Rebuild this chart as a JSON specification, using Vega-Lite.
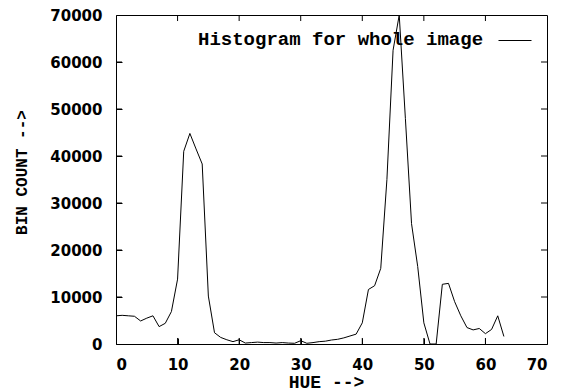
{
  "$schema": "https://vega.github.io/schema/vega-lite/v6.json",
  "autosize": "none",
  "width": 431,
  "height": 329,
  "padding": {"left": 116, "top": 15, "right": 20, "bottom": 47},
  "background": "white",
  "config": {
    "view": {"stroke": "black", "strokeWidth": 1},
    "axis": {
      "labelColor": "black",
      "labelFont": "DejaVu Sans",
      "labelFontWeight": "bold",
      "labelFontSize": 15,
      "titleColor": "black",
      "titleFont": "Liberation Mono",
      "titleFontWeight": "bold"
    }
  },
  "datasets": {
    "hist": [
      {"hue": 0, "count": 6000, "series": "Histogram for whole image"},
      {"hue": 1, "count": 6100, "series": "Histogram for whole image"},
      {"hue": 2, "count": 6000, "series": "Histogram for whole image"},
      {"hue": 3, "count": 5900, "series": "Histogram for whole image"},
      {"hue": 4, "count": 4900, "series": "Histogram for whole image"},
      {"hue": 5, "count": 5500, "series": "Histogram for whole image"},
      {"hue": 6, "count": 6000, "series": "Histogram for whole image"},
      {"hue": 7, "count": 3700, "series": "Histogram for whole image"},
      {"hue": 8, "count": 4400, "series": "Histogram for whole image"},
      {"hue": 9, "count": 6900, "series": "Histogram for whole image"},
      {"hue": 10, "count": 13800, "series": "Histogram for whole image"},
      {"hue": 11, "count": 41000, "series": "Histogram for whole image"},
      {"hue": 12, "count": 44800, "series": "Histogram for whole image"},
      {"hue": 13, "count": 41500, "series": "Histogram for whole image"},
      {"hue": 14, "count": 38300, "series": "Histogram for whole image"},
      {"hue": 15, "count": 10200, "series": "Histogram for whole image"},
      {"hue": 16, "count": 2400, "series": "Histogram for whole image"},
      {"hue": 17, "count": 1400, "series": "Histogram for whole image"},
      {"hue": 18, "count": 900, "series": "Histogram for whole image"},
      {"hue": 19, "count": 500, "series": "Histogram for whole image"},
      {"hue": 20, "count": 900, "series": "Histogram for whole image"},
      {"hue": 21, "count": 200, "series": "Histogram for whole image"},
      {"hue": 22, "count": 300, "series": "Histogram for whole image"},
      {"hue": 23, "count": 400, "series": "Histogram for whole image"},
      {"hue": 24, "count": 300, "series": "Histogram for whole image"},
      {"hue": 25, "count": 300, "series": "Histogram for whole image"},
      {"hue": 26, "count": 200, "series": "Histogram for whole image"},
      {"hue": 27, "count": 300, "series": "Histogram for whole image"},
      {"hue": 28, "count": 200, "series": "Histogram for whole image"},
      {"hue": 29, "count": 150, "series": "Histogram for whole image"},
      {"hue": 30, "count": 700, "series": "Histogram for whole image"},
      {"hue": 31, "count": 150, "series": "Histogram for whole image"},
      {"hue": 32, "count": 300, "series": "Histogram for whole image"},
      {"hue": 33, "count": 500, "series": "Histogram for whole image"},
      {"hue": 34, "count": 600, "series": "Histogram for whole image"},
      {"hue": 35, "count": 850, "series": "Histogram for whole image"},
      {"hue": 36, "count": 1000, "series": "Histogram for whole image"},
      {"hue": 37, "count": 1300, "series": "Histogram for whole image"},
      {"hue": 38, "count": 1700, "series": "Histogram for whole image"},
      {"hue": 39, "count": 2100, "series": "Histogram for whole image"},
      {"hue": 40, "count": 4500, "series": "Histogram for whole image"},
      {"hue": 41, "count": 11600, "series": "Histogram for whole image"},
      {"hue": 42, "count": 12400, "series": "Histogram for whole image"},
      {"hue": 43, "count": 16100, "series": "Histogram for whole image"},
      {"hue": 44, "count": 35000, "series": "Histogram for whole image"},
      {"hue": 45, "count": 62500, "series": "Histogram for whole image"},
      {"hue": 46, "count": 70000, "series": "Histogram for whole image"},
      {"hue": 47, "count": 48000, "series": "Histogram for whole image"},
      {"hue": 48, "count": 25600, "series": "Histogram for whole image"},
      {"hue": 49, "count": 16500, "series": "Histogram for whole image"},
      {"hue": 50, "count": 4500, "series": "Histogram for whole image"},
      {"hue": 51, "count": 0, "series": "Histogram for whole image"},
      {"hue": 52, "count": 0, "series": "Histogram for whole image"},
      {"hue": 53, "count": 12700, "series": "Histogram for whole image"},
      {"hue": 54, "count": 12900, "series": "Histogram for whole image"},
      {"hue": 55, "count": 9000, "series": "Histogram for whole image"},
      {"hue": 56, "count": 6000, "series": "Histogram for whole image"},
      {"hue": 57, "count": 3500, "series": "Histogram for whole image"},
      {"hue": 58, "count": 3000, "series": "Histogram for whole image"},
      {"hue": 59, "count": 3300, "series": "Histogram for whole image"},
      {"hue": 60, "count": 2200, "series": "Histogram for whole image"},
      {"hue": 61, "count": 3100, "series": "Histogram for whole image"},
      {"hue": 62, "count": 6000, "series": "Histogram for whole image"},
      {"hue": 63, "count": 1600, "series": "Histogram for whole image"}
    ],
    "xticks": [
      {"t": 10}, {"t": 20}, {"t": 30}, {"t": 40}, {"t": 50}, {"t": 60}
    ],
    "yticks": [
      {"v": 10000}, {"v": 20000}, {"v": 30000}, {"v": 40000}, {"v": 50000}, {"v": 60000}
    ]
  },
  "layer": [
    {
      "data": {"name": "hist"},
      "mark": {"type": "line", "strokeWidth": 1, "clip": true},
      "encoding": {
        "x": {
          "field": "hue", "type": "quantitative",
          "scale": {"domain": [0, 70], "nice": false},
          "axis": {"orient": "bottom", "values": [0, 10, 20, 30, 40, 50, 60, 70], "format": "d", "domain": false, "grid": false, "ticks": true, "tickColor": "black", "tickWidth": 1, "tickSize": -6, "labelPadding": 19, "title": "HUE -->", "titleFontSize": 18, "titlePadding": 1, "titleX": 210}
        },
        "y": {
          "field": "count", "type": "quantitative",
          "scale": {"domain": [0, 70000], "nice": false},
          "axis": {"orient": "left", "values": [0, 10000, 20000, 30000, 40000, 50000, 60000, 70000], "format": "d", "domain": false, "grid": false, "ticks": true, "tickColor": "black", "tickWidth": 1, "tickSize": -6, "labelPadding": 20, "title": "BIN COUNT -->", "titleFontSize": 16, "titlePadding": 20, "titleY": 157}
        },
        "color": {
          "field": "series", "type": "nominal",
          "scale": {"range": ["black"]},
          "legend": {
            "title": "Histogram for whole image", "titleOrient": "left",
            "titleFont": "Liberation Mono", "titleFontWeight": "bold", "titleFontSize": 19,
            "titleColor": "black", "titlePadding": 14, "titleBaseline": "line-top", "titleLineHeight": 11, "titleAnchor": "middle",
            "titleLimit": 0,
            "orient": "none", "legendX": 82, "legendY": 8.5, "padding": 0,
            "symbolType": "stroke", "symbolSize": 1089, "symbolStrokeWidth": 1,
            "symbolStrokeColor": "black",
            "labelExpr": "''", "labelFontSize": 1, "labelOffset": 0
          }
        }
      }
    },
    {
      "data": {"name": "xticks"},
      "mark": {"type": "rule", "color": "black", "strokeWidth": 1},
      "encoding": {
        "x": {"field": "t", "type": "quantitative", "axis": null},
        "y": {"datum": 0, "axis": null},
        "y2": {"datum": 1280}
      }
    },
    {
      "data": {"name": "xticks"},
      "mark": {"type": "rule", "color": "black", "strokeWidth": 1},
      "encoding": {
        "x": {"field": "t", "type": "quantitative", "axis": null},
        "y": {"datum": 70000, "axis": null},
        "y2": {"datum": 68720}
      }
    },
    {
      "data": {"name": "yticks"},
      "mark": {"type": "rule", "color": "black", "strokeWidth": 1},
      "encoding": {
        "y": {"field": "v", "type": "quantitative", "axis": null},
        "x": {"datum": 0, "axis": null},
        "x2": {"datum": 0.97}
      }
    },
    {
      "data": {"name": "yticks"},
      "mark": {"type": "rule", "color": "black", "strokeWidth": 1},
      "encoding": {
        "y": {"field": "v", "type": "quantitative", "axis": null},
        "x": {"datum": 70, "axis": null},
        "x2": {"datum": 69.03}
      }
    }
  ],
  "resolve": {"axis": {"x": "independent", "y": "independent"}}
}
